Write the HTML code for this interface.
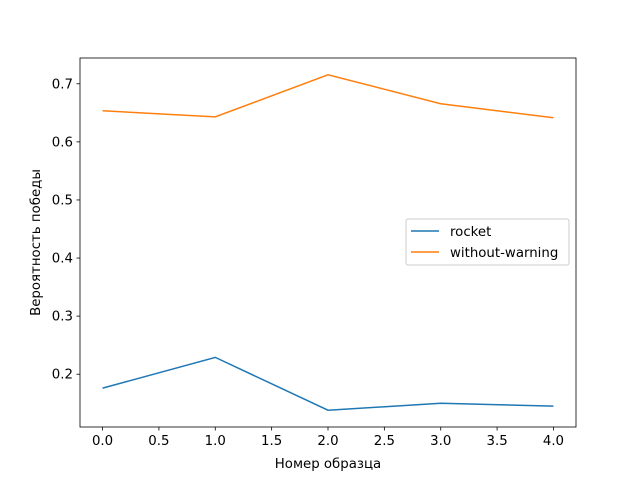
<!DOCTYPE html>
<html><head><meta charset="utf-8"><style>
body{margin:0;background:#fff}
svg text{font-family:"DejaVu Sans",sans-serif;font-size:13.33px;fill:#000}
</style></head><body>
<svg width="640" height="480" xmlns="http://www.w3.org/2000/svg">
<rect x="0" y="0" width="640" height="480" fill="#fff"/>
<g id="ticks"></g>
<g id="lines"></g>
<rect x="80" y="58" width="496" height="369" fill="none" stroke="#000" stroke-width="0.8"/>
<text x="328" y="468" text-anchor="middle">Номер образца</text>
<text transform="translate(40,242.5) rotate(-90)" text-anchor="middle">Вероятность победы</text>
<g>
<rect x="406" y="219" width="163" height="46" rx="2" fill="#fff" fill-opacity="0.8" stroke="#ccc" stroke-width="1"/>
<line x1="411" y1="231" x2="439" y2="231" stroke="#1f77b4" stroke-width="1.5"/>
<text x="450" y="236">rocket</text>
<line x1="411" y1="252" x2="439" y2="252" stroke="#ff7f0e" stroke-width="1.5"/>
<text x="450" y="257">without-warning</text>
</g>
</svg>
<script>
const categories=[0,1,2,3,4];
const rocket=[0.176,0.229,0.138,0.150,0.145];
const withoutWarning=[0.6536,0.643,0.7155,0.6656,0.6416];
const xTicks=[0,0.5,1,1.5,2,2.5,3,3.5,4];
const xTickLabels=["0.0","0.5","1.0","1.5","2.0","2.5","3.0","3.5","4.0"];
const yTicks=[0.2,0.3,0.4,0.5,0.6,0.7];
const yTickLabels=["0.2","0.3","0.4","0.5","0.6","0.7"];
const X0=80,X1=576,Y0=58,Y1=427;
const all=rocket.concat(withoutWarning);
const ymin=Math.min(...all),ymax=Math.max(...all),ym=(ymax-ymin)*0.05;
const xs=v=>X0+(v-(-0.2))/(4.4)*(X1-X0);
const ys=v=>Y1-(v-(ymin-ym))/((ymax+ym)-(ymin-ym))*(Y1-Y0);
const NS="http://www.w3.org/2000/svg";
const tg=document.getElementById('ticks'),lg=document.getElementById('lines');
function mk(t,a,p){const e=document.createElementNS(NS,t);for(const k in a)e.setAttribute(k,a[k]);p.appendChild(e);return e;}
xTicks.forEach((v,i)=>{const x=xs(v);
const l=mk('line',{x1:x,x2:x,y1:Y1,y2:Y1+3.5,stroke:'#000','stroke-width':0.8},tg);


const t=mk('text',{x:x,y:Y1+18,'text-anchor':'middle'},tg);t.textContent=xTickLabels[i];

});
yTicks.forEach((v,i)=>{const y=ys(v);
const l=mk('line',{x1:X0-3.5,x2:X0,y1:y,y2:y,stroke:'#000','stroke-width':0.8},tg);


const t=mk('text',{x:X0-7,y:y+4.5,'text-anchor':'end'},tg);t.textContent=yTickLabels[i];

});
[[rocket,'#1f77b4','rocket-line'],[withoutWarning,'#ff7f0e','without-warning-line']].forEach(([d,c,n])=>{
const p=mk('polyline',{points:d.map((v,i)=>xs(categories[i])+','+ys(v)).join(' '),fill:'none',stroke:c,'stroke-width':1.5},lg);

});
</script>
</body></html>
